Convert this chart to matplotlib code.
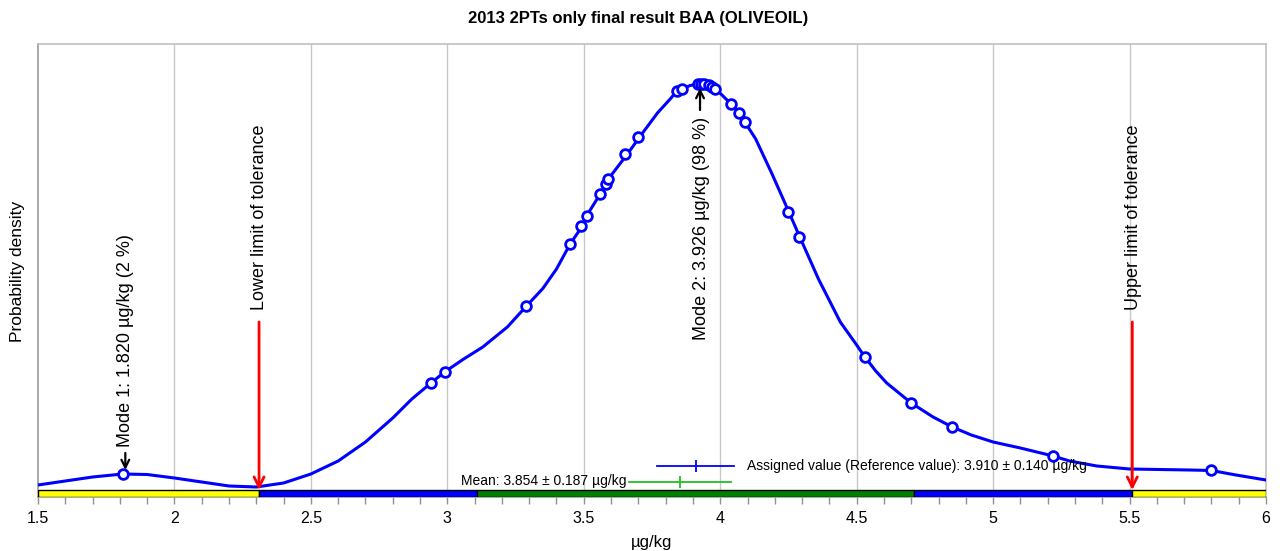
import matplotlib
matplotlib.use("Agg")
import matplotlib.pyplot as plt
from matplotlib.ticker import MultipleLocator
import warnings
warnings.filterwarnings("ignore")

# ---------------- data ----------------
title = "2013 2PTs only final result BAA (OLIVEOIL)"
unit = "µg/kg"

curve_x = [1.50, 1.60, 1.70, 1.81, 1.90, 2.00, 2.10, 2.20, 2.30, 2.40, 2.50, 2.60, 2.70,
           2.80, 2.87, 2.94, 2.99, 3.06, 3.13, 3.22, 3.29, 3.35, 3.40, 3.45, 3.50, 3.51,
           3.56, 3.58, 3.59, 3.66, 3.71, 3.77, 3.82, 3.84, 3.86, 3.89, 3.93, 3.96, 3.98,
           4.04, 4.07, 4.09, 4.13, 4.19, 4.25, 4.29, 4.36, 4.44, 4.50, 4.53, 4.57, 4.61,
           4.70, 4.78, 4.85, 4.92, 5.00, 5.10, 5.22, 5.28, 5.38, 5.50, 5.72, 5.80, 5.89,
           6.00]
curve_y = [0.010, 0.018, 0.026, 0.032, 0.031, 0.024, 0.016, 0.008, 0.006, 0.014, 0.032,
           0.058, 0.096, 0.144, 0.182, 0.214, 0.236, 0.262, 0.286, 0.326, 0.368, 0.403,
           0.442, 0.492, 0.532, 0.548, 0.592, 0.612, 0.622, 0.672, 0.710, 0.754, 0.784,
           0.798, 0.802, 0.809, 0.813, 0.810, 0.804, 0.772, 0.754, 0.736, 0.702, 0.632,
           0.558, 0.508, 0.422, 0.336, 0.290, 0.266, 0.238, 0.214, 0.174, 0.146, 0.126,
           0.110, 0.096, 0.084, 0.068, 0.058, 0.048, 0.042, 0.040, 0.039, 0.030, 0.020]

results_x = [1.81, 2.94, 2.99, 3.29, 3.45, 3.49, 3.51, 3.56, 3.58, 3.59, 3.65, 3.70, 3.84,
             3.86, 3.92, 3.93, 3.94, 3.96, 3.97, 3.98, 4.04, 4.07, 4.09, 4.25, 4.29, 4.53,
             4.70, 4.85, 5.22, 5.80]
results_y = [0.032, 0.214, 0.236, 0.368, 0.492, 0.528, 0.548, 0.592, 0.612, 0.622, 0.672,
             0.706, 0.798, 0.802, 0.812, 0.812, 0.812, 0.810, 0.806, 0.802, 0.772, 0.754,
             0.736, 0.556, 0.506, 0.266, 0.174, 0.126, 0.068, 0.040]

mode1_value, mode1_share = 1.820, 2
mode2_value, mode2_share = 3.926, 98
assigned_value, assigned_unc = 3.910, 0.140
mean_value, mean_unc = 3.854, 0.187
tol_outer = 1.60   # tolerance limits
tol_inner = 0.80   # inner band
x_min, x_max = 1.5, 6.0
x_ticks = [1.5, 2, 2.5, 3, 3.5, 4, 4.5, 5, 5.5, 6]
x_ticklabels = ["1.5", "2", "2.5", "3", "3.5", "4", "4.5", "5", "5.5", "6"]

# ---------------- style ----------------
regular = ["Liberation Sans", "DejaVu Sans"]
plt.rcParams["font.family"] = regular

W, H = 1285, 551
fig = plt.figure(figsize=(W / 100, H / 100), dpi=100)
ax = fig.add_axes([38 / W, 1 - 497 / H, (1266 - 38) / W, (497 - 44) / H])
ax.set_xlim(x_min, x_max)
ax.set_ylim(-0.014, 0.892)

# grid
for xv in x_ticks[1:-1]:
    ax.axvline(xv, color="#c8c8c8", lw=1.0, zorder=0)

for side in ["top", "right"]:
    ax.spines[side].set_color("#c0c0c0")
ax.spines["left"].set_color("#9a9a9a")
ax.spines["bottom"].set_color("#9a9a9a")
for s in ax.spines.values():
    s.set_linewidth(1.2)

ax.set_yticks([])
ax.set_xticks(x_ticks)
ax.set_xticklabels(x_ticklabels, fontsize=11.5)
ax.xaxis.set_minor_locator(MultipleLocator(0.1))
ax.tick_params(axis="x", which="both", direction="out", length=5, width=1,
               color="#909090", pad=5)

# tolerance bar at the bottom
lo_lim = assigned_value - tol_outer
hi_lim = assigned_value + tol_outer
lo_in = assigned_value - tol_inner
hi_in = assigned_value + tol_inner
seg_left = [x_min, lo_lim, lo_in, hi_in, hi_lim]
seg_right = [lo_lim, lo_in, hi_in, hi_lim, x_max]
seg_col = ["#ffff00", "#0000ff", "#008000", "#0000ff", "#ffff00"]
for l, r, c in zip(seg_left, seg_right, seg_col):
    ax.barh(-0.007, r - l, left=l, height=0.014, color=c, edgecolor="black",
            linewidth=1.0, zorder=3)

# density curve and results
ax.plot(curve_x, curve_y, color="#0000ff", lw=2.2, zorder=4, solid_joinstyle="round")
ax.plot(results_x, results_y, linestyle="none", marker="o", markersize=7,
        markerfacecolor="white", markeredgecolor="#0000ff", markeredgewidth=2, zorder=5)

# modes
ax.annotate("", xy=(mode1_value, 0.040), xytext=(mode1_value, 0.074),
            arrowprops=dict(arrowstyle="->", color="black", lw=1.6,
                            mutation_scale=14, shrinkA=0, shrinkB=0), zorder=6)
ax.text(mode1_value, 0.086, f"Mode 1: {mode1_value:.3f} {unit} ({mode1_share} %)",
        rotation=90, ha="center", va="bottom", fontsize=13, zorder=6)
ax.annotate("", xy=(mode2_value, 0.804), xytext=(mode2_value, 0.760),
            arrowprops=dict(arrowstyle="->", color="black", lw=1.6,
                            mutation_scale=14, shrinkA=0, shrinkB=0), zorder=6)
ax.text(mode2_value + 0.005, 0.300, f"Mode 2: {mode2_value:.3f} {unit} ({mode2_share} %)",
        rotation=90, ha="center", va="bottom", fontsize=13, zorder=6)

# tolerance limits
for xv, lab in [(lo_lim, "Lower limit of tolerance"), (hi_lim, "Upper limit of tolerance")]:
    ax.annotate("", xy=(xv, 0.0), xytext=(xv, 0.336),
                arrowprops=dict(arrowstyle="->", color="#ff0000", lw=2.0,
                                mutation_scale=18, shrinkA=0, shrinkB=0), zorder=6)
    ax.text(xv + 0.003, 0.360, lab, rotation=90, ha="center", va="bottom",
            fontsize=13, zorder=6)

# assigned value / mean markers
ax.plot([assigned_value - assigned_unc, assigned_value + assigned_unc], [0.048, 0.048],
        color="#0000ff", lw=1.3, zorder=6)
ax.plot([assigned_value], [0.048], marker="|", markersize=9, color="#0000ff",
        markeredgewidth=1.3, zorder=6)
ax.text(assigned_value + assigned_unc + 0.048, 0.048,
        f"Assigned value (Reference value): {assigned_value:.3f} ± {assigned_unc:.3f} {unit}",
        ha="left", va="center", fontsize=10, zorder=6)
ax.plot([mean_value - mean_unc, mean_value + mean_unc], [0.016, 0.016],
        color="#22c022", lw=1.3, zorder=6)
ax.plot([mean_value], [0.016], marker="|", markersize=9, color="#22c022",
        markeredgewidth=1.3, zorder=6)
ax.text(mean_value - mean_unc - 0.012, 0.019,
        f"Mean: {mean_value:.3f} ± {mean_unc:.3f} {unit}",
        ha="right", va="center", fontsize=10, zorder=6)

# labels
fig.text(638 / W, 1 - 19 / H, title, ha="center", va="center", fontsize=12,
         fontweight="bold")
fig.text(18 / W, 1 - 271 / H, "Probability density", rotation=90, ha="center",
         va="center", fontsize=12.5)
fig.text(652 / W, 1 - 542 / H, unit, ha="center", va="center", fontsize=12)

fig.savefig("out.png", dpi=100)
